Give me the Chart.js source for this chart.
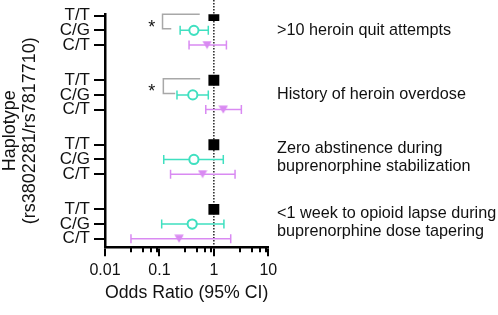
<!DOCTYPE html>
<html><head><meta charset="utf-8">
<script src="https://cdn.jsdelivr.net/npm/chart.js@4.4.0/dist/chart.umd.min.js"></script>
<style>html,body{margin:0;padding:0;background:#fff;}</style>
</head><body>
<canvas id="c" width="498" height="315" style="width:498px;height:315px;display:block"></canvas>
<script>
// ---- data ----
const groupLabels = [
  ['>10 heroin quit attempts'],
  ['History of heroin overdose'],
  ['Zero abstinence during', 'buprenorphine stabilization'],
  ['<1 week to opioid lapse during', 'buprenorphine dose tapering']
];
const haplotypes = ['T/T', 'C/G', 'C/T'];
const ttOR = [1, 1, 1, 1];
const cgOR = [0.43, 0.41, 0.43, 0.40];
const cgLo = [0.24, 0.21, 0.12, 0.11];
const cgHi = [0.79, 0.79, 1.49, 1.53];
const ctOR = [0.75, 1.49, 0.62, 0.23];
const ctLo = [0.35, 0.71, 0.16, 0.03];
const ctHi = [1.70, 3.2, 2.45, 2.04];
const xTicks = [0.01, 0.1, 1, 10];
const minorMult = [3, 5, 7, 9];
// significance brackets (T/T vs C/G): group, bracket x, top end x, bottom end x, star x
const sigGroups = [0, 1];
const sigBracketX = [0.114, 0.118];
const sigTopEnd = [0.55, 0.56];
const sigBottomEnd = [0.165, 0.195];
const sigStarX = [0.072, 0.072];

const GROUP_STEP = 4.4;
const rowPos = (g, h) => g * GROUP_STEP + h;
const rowTicks = [];
groupLabels.forEach((_, g) => haplotypes.forEach((_, h) => rowTicks.push(rowPos(g, h))));

const TEAL = '#3FE0C0';
const VIOLET = '#D98AF2';

// downward triangle point image
const tri = document.createElement('canvas');
tri.width = 10; tri.height = 9;
(function(){ const t = tri.getContext('2d'); t.fillStyle = VIOLET; t.beginPath();
  t.moveTo(0.3, 0.5); t.lineTo(9.7, 0.5); t.lineTo(5, 8.5); t.closePath(); t.fill(); })();

const FONT = '"Liberation Sans", Arial, sans-serif';
Chart.defaults.font.family = FONT;
Chart.defaults.color = '#111';

const decor = {
  id: 'decor',
  beforeDatasetsDraw(chart) {
    const {ctx, scales: {x, y}, chartArea} = chart;
    ctx.save();
    // dotted line at OR = 1
    const x1 = x.getPixelForValue(1);
    ctx.strokeStyle = '#000'; ctx.lineWidth = 1.3; ctx.setLineDash([1.5, 1.5]);
    ctx.beginPath(); ctx.moveTo(x1, 0); ctx.lineTo(x1, chartArea.bottom); ctx.stroke();
    ctx.setLineDash([]);
    // error bars
    function ebar(lo, hi, yv, col) {
      const a = x.getPixelForValue(lo), b = x.getPixelForValue(hi), yy = y.getPixelForValue(yv);
      ctx.strokeStyle = col; ctx.lineWidth = 1.5;
      ctx.beginPath();
      ctx.moveTo(a, yy); ctx.lineTo(b, yy);
      ctx.moveTo(a, yy - 4.5); ctx.lineTo(a, yy + 4.5);
      ctx.moveTo(b, yy - 4.5); ctx.lineTo(b, yy + 4.5);
      ctx.stroke();
    }
    groupLabels.forEach((_, g) => {
      ebar(cgLo[g], cgHi[g], rowPos(g, 1), TEAL);
      ebar(ctLo[g], ctHi[g], rowPos(g, 2), VIOLET);
    });
    // significance brackets
    sigGroups.forEach((g, i) => {
      const yt = y.getPixelForValue(rowPos(g, 0) - 0.1);
      const yb = y.getPixelForValue(rowPos(g, 1) - 0.1);
      const bx = x.getPixelForValue(sigBracketX[i]);
      ctx.strokeStyle = '#a8a8a8'; ctx.lineWidth = 1.5;
      ctx.beginPath();
      ctx.moveTo(x.getPixelForValue(sigTopEnd[i]), yt); ctx.lineTo(bx, yt);
      ctx.lineTo(bx, yb); ctx.lineTo(x.getPixelForValue(sigBottomEnd[i]), yb);
      ctx.stroke();
      ctx.fillStyle = '#111'; ctx.font = '18px ' + FONT;
      ctx.textAlign = 'center'; ctx.textBaseline = 'middle';
      ctx.fillText('*', x.getPixelForValue(sigStarX[i]), (yt + yb) / 2 + 6);
    });
    ctx.restore();
  },
  afterDraw(chart) {
    const {ctx, scales: {x, y}, chartArea} = chart;
    ctx.save();
    // minor ticks
    ctx.strokeStyle = '#000'; ctx.lineWidth = 2;
    for (let d = 0; d < xTicks.length - 1; d++) {
      minorMult.forEach(m => {
        const px = Math.round(x.getPixelForValue(xTicks[d] * m));
        ctx.beginPath(); ctx.moveTo(px, chartArea.bottom); ctx.lineTo(px, chartArea.bottom + 5); ctx.stroke();
      });
    }
    // group labels on the right
    ctx.fillStyle = '#111'; ctx.font = '16.2px ' + FONT;
    ctx.textAlign = 'left'; ctx.textBaseline = 'middle';
    groupLabels.forEach((lines, g) => {
      const cy = y.getPixelForValue(rowPos(g, 1)) - (lines.length > 1 ? 1.5 : 0);
      const lh = 18;
      lines.forEach((t, i) => {
        ctx.fillText(t, 277, cy + (i - (lines.length - 1) / 2) * lh);
      });
    });
    ctx.restore();
  }
};

new Chart(document.getElementById('c'), {
  type: 'scatter',
  data: {
    datasets: [
      { label: 'T/T', data: ttOR.map((v, g) => ({x: v, y: rowPos(g, 0)})),
        pointStyle: 'rect', pointRadius: 7.7, backgroundColor: '#000', borderColor: '#000', borderWidth: 0 },
      { label: 'C/G', data: cgOR.map((v, g) => ({x: v, y: rowPos(g, 1)})),
        pointStyle: 'circle', pointRadius: 4.6, backgroundColor: '#fff', borderColor: TEAL, borderWidth: 2 },
      { label: 'C/T', data: ctOR.map((v, g) => ({x: v, y: rowPos(g, 2)})),
        pointStyle: tri, pointRadius: 5, backgroundColor: VIOLET, borderColor: VIOLET }
    ]
  },
  options: {
    responsive: false,
    animation: false,
    devicePixelRatio: 1,
    layout: { padding: { top: 12.5, right: 229.7, left: 0, bottom: 0 } },
    plugins: { legend: { display: false }, tooltip: { enabled: false } },
    scales: {
      x: {
        type: 'logarithmic', min: 0.01, max: 10,
        afterBuildTicks: s => { s.ticks = xTicks.map(v => ({value: v})); },
        afterFit: s => { s.height = 67.7; },
        ticks: { callback: v => String(v), font: { size: 16 }, color: '#111', padding: 5, maxRotation: 0, autoSkip: false },
        grid: { drawOnChartArea: false, drawTicks: true, tickLength: 9, color: '#000', lineWidth: 2 },
        border: { display: true, color: '#000', width: 2.5 },
        title: { display: true, text: 'Odds Ratio (95% CI)', font: { size: 18.5 }, color: '#111', padding: { top: 2, bottom: 11 } }
      },
      y: {
        type: 'linear', reverse: true, min: -0.1, max: 15.786,
        afterBuildTicks: s => { s.ticks = rowTicks.map(v => ({value: v})); },
        afterFit: s => { s.width = 105; },
        ticks: { callback: (v) => { const i = rowTicks.findIndex(r => Math.abs(r - v) < 1e-6); return i >= 0 ? haplotypes[i % 3] : ''; },
                 font: { size: 17 }, color: '#111', padding: 4, autoSkip: false },
        grid: { drawOnChartArea: false, drawTicks: true, tickLength: 11, color: '#000', lineWidth: 2 },
        border: { display: true, color: '#000', width: 2.5 },
        title: { display: true, text: ['Haplotype', '(rs3802281/rs7817710)'], font: { size: 18, lineHeight: 1.1 }, color: '#111', padding: { top: 0, bottom: 0 } }
      }
    }
  },
  plugins: [decor]
});
</script>
</body></html>
